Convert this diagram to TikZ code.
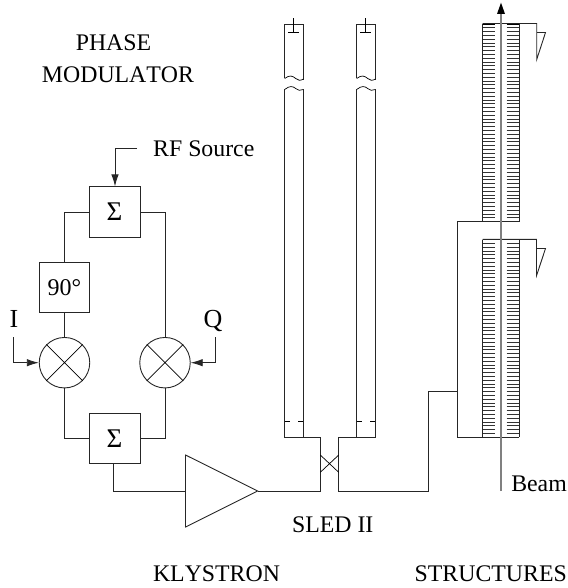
\documentclass[tikz,border=0pt]{standalone}
\usepackage{fontspec}
\setmainfont[Kerning=Off]{Liberation Serif}
\usetikzlibrary{arrows.meta}
\tikzset{
  wire/.style={line width=0.9pt,draw=black!85},
  thinw/.style={line width=0.7pt,draw=black},
  gbox/.style={rectangle,draw=black!85,line width=0.9pt,minimum width=50.3pt,minimum height=50.3pt,inner sep=0pt},
  mixer/.style={circle,draw=black!85,line width=0.9pt,minimum size=50.5pt,inner sep=0pt},
  lbl/.style={inner sep=0pt,anchor=base,font=\fontsize{23.8}{24}\selectfont},
  big/.style={inner sep=0pt,anchor=base,font=\fontsize{26}{26}\selectfont},
  sig/.style={inner sep=0pt,anchor=base,font=\fontsize{27}{27}\selectfont},
  head/.style={-{Latex[length=12pt,width=7.5pt]}},
  beam/.style={line width=2pt,draw=black!50},
  rung/.style={line width=0.8pt,draw=black!80}
}
\begin{document}
\begin{tikzpicture}[x=1pt,y=-1pt]
\useasboundingbox (0,0) rectangle (567,588);
% texts
\node[lbl] (tphase) at (113.5,51) {PHASE};
\node[lbl] (tmod) at (118,83) {MODULATOR};
\node[lbl,anchor=base west] (trf) at (153,156.7) {RF Source};
\node[big] (tI) at (14,327.7) {I};
\node[big] (tQ) at (213,327.7) {Q};
\node[lbl] (tsled) at (332.7,532) {SLED II};
\node[lbl] (tkly) at (216.5,581) {KLYSTRON};
\node[lbl,anchor=base east] (tstr) at (567,581) {STRUCTURES};
\node[lbl,anchor=base east] (tbeam) at (567,491) {Beam};
% modulator
\node[gbox] (s1) at (115,212) {};
\node[gbox] (p90) at (64.5,287.3) {};
\node[mixer] (m1) at (64.5,362.7) {};
\node[mixer] (m2) at (165,362.7) {};
\node[gbox] (s2) at (115,438.7) {};
\node[sig] (ts1) at (114.5,220) {Σ};
\node[sig] (ts2) at (114.5,447.5) {Σ};
\node[inner sep=0pt,anchor=base,font=\fontsize{24}{24}\selectfont] (t90) at (64.5,295.7) {90°};
\draw[thinw] (m1.45)--(m1.225) (m1.135)--(m1.315);
\draw[thinw] (m2.45)--(m2.225) (m2.135)--(m2.315);
\coordinate (rf) at (137,148);
\coordinate (iin) at (13.7,337.3);
\coordinate (qin) at (215.3,337.3);
\draw[wire,head] (rf) -- (115,148) -- (s1.north);
\draw[wire,head] (iin) -- (iin|-m1) -- (m1.west);
\draw[wire,head] (qin) -- (qin|-m2) -- (m2.east);
\draw[wire] (s1.west) -| (p90.north);
\draw[wire] (s1.east) -| (m2.north);
\draw[wire] (p90.south) -- (m1.north);
\draw[wire] (m1.south) |- (s2.west);
\draw[wire] (m2.south) |- (s2.east);
% klystron
\coordinate (ka) at (185.5,455);
\coordinate (kb) at (185.5,527);
\coordinate (kt) at (257.7,491);
\coordinate (kin) at (185.5,491);
\coordinate (s2o) at (113.5,463.8);
\draw[wire] (ka) -- (kt) -- (kb) -- cycle;
\draw[wire] (s2o) |- (kin);
% hybrid
\coordinate (hl) at (320.3,491);
\coordinate (hr) at (338.7,491);
\coordinate (tl) at (320.3,437.3);
\coordinate (tr) at (338.7,437.3);
\draw[wire] (kt) -- (hl) -- (tl) -- (303.3,437.3);
\draw[wire] (356.7,437.3) -- (tr) -- (hr) -- (428.3,491) -- (428.3,391.7) -- (457.3,391.7);
\draw[thinw] (320.3,455) -- (338.7,472.3) (320.3,472.3) -- (338.7,455);
% SLED pipes
\foreach \a/\b/\c in {284.7/303.3/293.5,356.7/375.3/365.5}{
  \draw[wire] (\a,78.5) -- (\a,24) -- (\b,24) -- (\b,80);
  \draw[thinw] (\a,78.5) .. controls (\a+5,74.5) and (\a+8,76) .. (\a+11,78.5) .. controls (\a+13,80.5) and (\a+16,81) .. (\b,79);
  \draw[thinw] (\a,89.5) .. controls (\a+5,85.5) and (\a+8,86) .. (\a+11,88.5) .. controls (\a+13,90.5) and (\a+16,91) .. (\b,89.5);
  \draw[wire] (\a,89.5) -- (\a,437.3) -- (\b,437.3) -- (\b,89.5);
  \draw[thinw] (\c,18.5) -- (\c,32);
  \draw[thinw] (\c-5.5,32) -- (\c+5.5,32);
  \draw[thinw] (\a,421.7) -- (\a+5,421.7) (\b-5,421.7) -- (\b,421.7);
}
% structures
\foreach \t/\bt in {24/221.7,239.5/437.3}{
  \pgfmathsetmacro{\tt}{\t+3.8}
  \pgfmathsetmacro{\ttt}{\t+7.6}
  \foreach \y in {\t,\tt,\ttt,...,\bt}{
    \draw[rung] (482.7,\y) -- (495,\y) (506.7,\y) -- (519,\y);
  }
  \draw[wire] (482.7,\t) -- (482.7,\bt) (519,\t) -- (519,\bt);
  \draw[line width=1.4pt] (482.7,\t) -- (495,\t) (506.7,\t) -- (519,\t);
  \draw[line width=1.4pt] (482.7,\bt) -- (495,\bt) (506.7,\bt) -- (519,\bt);
}
\draw[wire] (457.3,437.3) -- (457.3,221.7) -- (519,221.7);
\draw[wire] (457.3,437.3) -- (519,437.3);
\draw[wire] (482.7,23.5) -- (536.7,23.5) -- (536.7,59.5) -- (545.5,32.5) -- (536.7,32.5);
\draw[wire] (482.7,239.3) -- (536.5,239.3) -- (536.5,275.7) -- (545.5,248.5) -- (536.5,248.5);
\coordinate (bs) at (501,491);
\coordinate (be) at (501,2.7);
\draw[beam] (bs) -- (501,12);
\draw[draw=none,fill=black] (be) -- (505,14) -- (497,14) -- cycle;
\end{tikzpicture}
\end{document}
